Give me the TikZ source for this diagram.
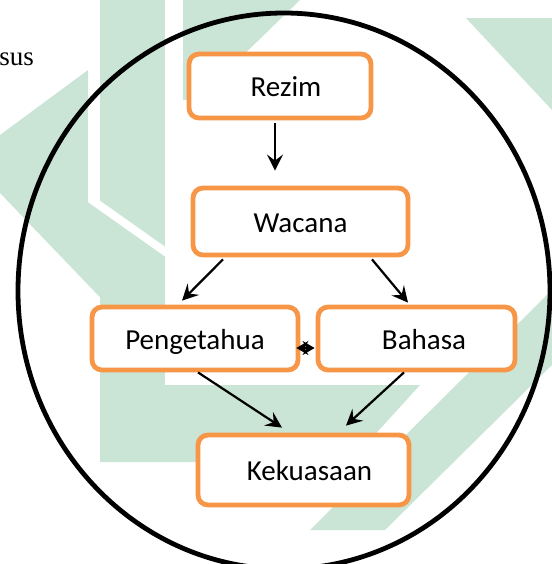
\documentclass[tikz,border=0pt]{standalone}
\usepackage{fontspec}
\setmainfont{Carlito}
\newfontfamily\timesfont{Liberation Serif}
\usetikzlibrary{arrows.meta}
\definecolor{boxorange}{HTML}{F79646}
\definecolor{wmgreen}{RGB}{202,229,213}
\begin{document}
\begin{tikzpicture}[x=0.5pt,y=-0.5pt,
    box/.style={draw=boxorange,line width=2.4pt,rounded corners=5pt,fill=white,
      inner sep=0pt,text height=12pt,text depth=1.5pt,font=\fontsize{14.5}{17}\selectfont},
    arr/.style={-{Stealth[length=8pt,width=8pt,inset=3pt]},line width=1.1pt},
    duo/.style={{Stealth[length=6pt,width=7pt,inset=2pt]}-{Stealth[length=6pt,width=7pt,inset=2pt]},line width=1.1pt},
    ring/.style={line width=2.4pt},
    wmark/.style={fill=wmgreen,draw=none}]
			\useasboundingbox (0,0) rectangle (552,564);
			\clip (0,0) rectangle (552,564);
			% watermark
			\fill[wmark] (100,0) -- (165,0) -- (165,462) -- (100,462) -- cycle;
			\fill[wmark] (0,135) -- (88,70) -- (88,200) -- (165,255) -- (165,365) -- (0,193) -- cycle;
			\fill[wmark] (183,0) -- (300,0) -- (197,100) -- (183,100) -- cycle;
			\fill[wmark] (100,385) -- (420,385) -- (350,462) -- (100,462) -- cycle;
			\fill[wmark] (310,530) -- (385,530) -- (552,365) -- (552,290) -- cycle;
			\fill[wmark] (466,18) -- (552,18) -- (552,110) -- cycle;
			\draw[white,line width=4pt] (92,110) -- (92,200) -- (167,253);
			\node[anchor=base west,font=\timesfont\fontsize{13.5}{16}\selectfont,inner sep=0pt] (sus) at (-1,65) {sus};
			\draw[ring] (284,291) ellipse [x radius=133pt,y radius=139pt];
			\node[box,minimum width=91pt,minimum height=32pt] (rezim) at (280,86) {\hspace*{6pt}Rezim};
			\node[box,minimum width=107.5pt,minimum height=33.5pt] (wacana) at (300.5,221.5) {Wacana};
			\node[box,minimum width=103pt,minimum height=31.5pt] (pengetahua) at (195,338.5) {Pengetahua};
			\node[box,minimum width=98.5pt,minimum height=31.5pt] (bahasa) at (416.5,338.5) {\hspace*{7.5pt}Bahasa};
			\node[box,minimum width=105.5pt,minimum height=35pt] (kekuasaan) at (303.5,470) {\hspace*{6pt}Kekuasaan};
			\draw[arr] ([shift={(-5,3)}]rezim.south) -- ([shift={(-25.5,-15)}]wacana.north);
			\draw[arr] ([shift={(-77.5,2)}]wacana.south) -- ([shift={(-13,-4)}]pengetahua.north);
			\draw[arr] ([shift={(71.5,2)}]wacana.south) -- ([shift={(-8.5,-2)}]bahasa.north);
			\draw[arr] ([shift={(3,0)}]pengetahua.south) -- ([shift={(-21.5,-5)}]kekuasaan.north);
			\draw[arr] ([shift={(-12.5,0)}]bahasa.south) -- ([shift={(42.5,-7)}]kekuasaan.north);
			\draw[duo] ([shift={(-4,9.5)}]pengetahua.east) -- ([shift={(-1,9.5)}]bahasa.west);
\end{tikzpicture}
\end{document}
